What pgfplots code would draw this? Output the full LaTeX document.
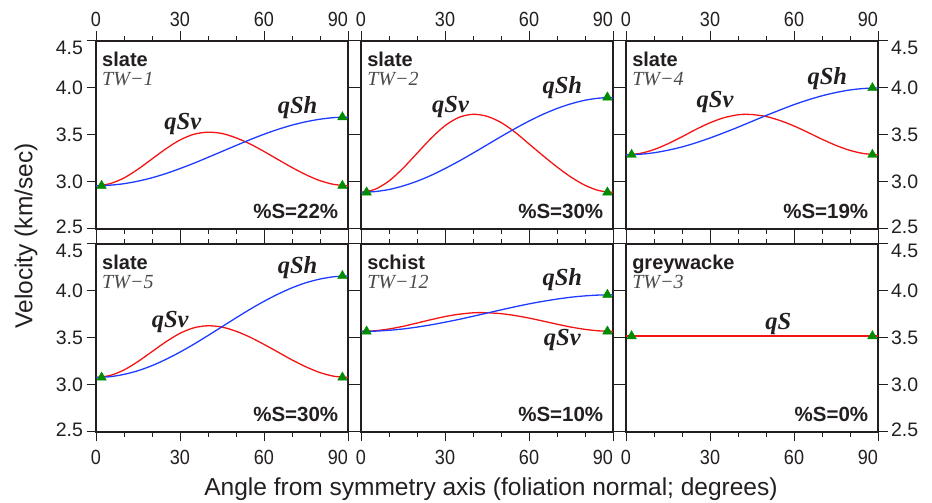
\documentclass[border=0pt]{standalone}
\usepackage{fontspec}
\setmainfont{Liberation Sans}
\newfontfamily\timesfont{Liberation Serif}
\newfontfamily\narrowsans[FakeStretch=0.88]{Liberation Sans}
\usepackage{pgfplots}
\pgfplotsset{compat=1.18}
\definecolor{txt}{HTML}{231F20}
\definecolor{twgray}{HTML}{4A4A4A}
\definecolor{cred}{HTML}{F41414}
\definecolor{cblue}{HTML}{1E3CFF}
\definecolor{cgreen}{HTML}{008C00}
\pgfplotsset{
  panel/.style={
    width=252pt, height=188pt, scale only axis, anchor=south west,
    xmin=0, xmax=90, ymin=2.5, ymax=4.5,
    xtick={0,30,60,90}, minor xtick={10,20,40,50,70,80},
    xticklabels={0,30,60,\makebox[0pt][r]{90}},
    ytick={2.5,3.0,3.5,4.0,4.5},
    yticklabels={\raisebox{2pt}[\height][\depth]{2.5},3.0,3.5,4.0,\raisebox{-6.5pt}[\height][\depth]{4.5}},
    tick align=outside, tick pos=both,
    major tick length=9.5pt, minor tick length=5pt,
    axis line style={line width=1.5pt, color=txt},
    tick style={line width=1pt, color=txt},
    yticklabel style={font=\fontsize{19.5}{20}\selectfont, color=txt},
    xticklabel style={font=\fontsize{20.5}{21}\selectfont\narrowsans, color=txt},
    clip=false,
  },
  toprow/.style={xticklabel pos=upper, xticklabel style={yshift=1pt}},
  botrow/.style={xticklabel pos=lower, xticklabel style={yshift=-5pt}},
  sv/.style={cred, line width=1.3pt, smooth},
  sh/.style={cblue, line width=1.3pt, smooth},
  tri/.style={only marks, mark=triangle*, mark size=5.5pt, mark options={fill=cgreen, draw=cgreen}},
}
\newcommand{\rock}[2]{%
  \node[anchor=base west, font=\fontsize{20}{20}\selectfont\bfseries, color=txt, inner sep=0pt] at (rel axis cs:0.024,0.862) {#1};
  \node[anchor=base west, font=\fontsize{20}{20}\selectfont\timesfont\itshape, color=twgray, inner sep=0pt] at (rel axis cs:0.024,0.761) {#2};}
\newcommand{\pct}[1]{%
  \node[anchor=base east, font=\fontsize{20.5}{20}\selectfont\bfseries, color=txt, inner sep=0pt] at (rel axis cs:0.962,0.058) {\%S=#1\%};}
\newcommand{\lab}[3]{%
  \node[font=\fontsize{24.5}{25}\selectfont\timesfont\bfseries\itshape, color=txt, inner sep=0pt] at (axis cs:#1,#2) {#3};}
\begin{document}
\begin{tikzpicture}
\path[use as bounding box] (0pt,0pt) rectangle (932pt,503pt);
% ---------- TW-1
\begin{axis}[panel, toprow, at={(96pt,274pt)}, yticklabel pos=left]
\addplot[sv] coordinates {(0,2.960)(5,2.982)(10,3.043)(15,3.136)(20,3.245)(25,3.354)(30,3.447)(35,3.508)(40,3.530)(45,3.516)(50,3.470)(55,3.405)(60,3.325)(65,3.239)(70,3.154)(75,3.077)(80,3.014)(85,2.974)(90,2.960)};
\addplot[sh] coordinates {(0,2.960)(5,2.966)(10,2.982)(15,3.009)(20,3.045)(25,3.090)(30,3.143)(35,3.200)(40,3.262)(45,3.325)(50,3.388)(55,3.450)(60,3.508)(65,3.560)(70,3.605)(75,3.641)(80,3.668)(85,3.685)(90,3.690)};
\addplot[tri] coordinates {(2,2.960)(88,2.960)(88,3.690)};
\rock{slate}{TW−1}\pct{22}
\lab{31}{3.62}{qSv}\lab{72}{3.795}{qSh}
\end{axis}
% ---------- TW-2
\begin{axis}[panel, toprow, at={(361pt,274pt)}, yticklabels={}]
\addplot[sv] coordinates {(0,2.890)(5,2.922)(10,3.011)(15,3.146)(20,3.305)(25,3.464)(30,3.599)(35,3.688)(40,3.720)(45,3.699)(50,3.633)(55,3.530)(60,3.405)(65,3.280)(70,3.160)(75,3.052)(80,2.965)(85,2.908)(90,2.890)};
\addplot[sh] coordinates {(0,2.890)(5,2.898)(10,2.920)(15,2.958)(20,3.008)(25,3.070)(30,3.143)(35,3.222)(40,3.307)(45,3.395)(50,3.483)(55,3.568)(60,3.648)(65,3.720)(70,3.782)(75,3.832)(80,3.870)(85,3.892)(90,3.900)};
\addplot[tri] coordinates {(2,2.890)(88,2.890)(88,3.900)};
\rock{slate}{TW−2}\pct{30}
\lab{32}{3.80}{qSv}\lab{71.9}{4.00}{qSh}
\end{axis}
% ---------- TW-4
\begin{axis}[panel, toprow, at={(626pt,274pt)}, yticklabel pos=right]
\addplot[sv] coordinates {(0,3.290)(5,3.304)(10,3.345)(15,3.407)(20,3.481)(25,3.560)(30,3.630)(35,3.684)(40,3.715)(43,3.720)(45,3.718)(50,3.697)(55,3.654)(60,3.596)(65,3.527)(70,3.455)(75,3.389)(80,3.336)(85,3.302)(90,3.290)};
\addplot[sh] coordinates {(0,3.290)(5,3.295)(10,3.311)(15,3.338)(20,3.373)(25,3.417)(30,3.468)(35,3.524)(40,3.583)(45,3.645)(50,3.707)(55,3.766)(60,3.823)(65,3.873)(70,3.917)(75,3.952)(80,3.979)(85,3.995)(90,4.000)};
\addplot[tri] coordinates {(2,3.290)(88,3.290)(88,4.000)};
\rock{slate}{TW−4}\pct{19}
\lab{31.8}{3.855}{qSv}\lab{71.9}{4.10}{qSh}
\end{axis}
% ---------- TW-5
\begin{axis}[panel, botrow, at={(96pt,71pt)}, yticklabel pos=left]
\addplot[sv] coordinates {(0,3.080)(5,3.101)(10,3.160)(15,3.250)(20,3.355)(25,3.460)(30,3.550)(35,3.609)(40,3.630)(45,3.616)(50,3.572)(55,3.509)(60,3.432)(65,3.350)(70,3.267)(75,3.193)(80,3.132)(85,3.093)(90,3.080)};
\addplot[sh] coordinates {(0,3.080)(5,3.088)(10,3.113)(15,3.152)(20,3.206)(25,3.273)(30,3.350)(35,3.435)(40,3.526)(45,3.620)(50,3.714)(55,3.805)(60,3.890)(65,3.967)(70,4.034)(75,4.088)(80,4.127)(85,4.152)(90,4.160)};
\addplot[tri] coordinates {(2,3.080)(88,3.080)(88,4.160)};
\rock{slate}{TW−5}\pct{30}
\lab{26.5}{3.667}{qSv}\lab{72}{4.25}{qSh}
\end{axis}
% ---------- TW-12
\begin{axis}[panel, botrow, at={(361pt,71pt)}, yticklabels={}]
\addplot[sv] coordinates {(0,3.570)(5,3.577)(10,3.596)(15,3.624)(20,3.659)(25,3.695)(30,3.728)(35,3.753)(40,3.768)(43,3.770)(45,3.769)(50,3.759)(55,3.739)(60,3.712)(65,3.680)(70,3.647)(75,3.616)(80,3.592)(85,3.576)(90,3.570)};
\addplot[sh] coordinates {(0,3.570)(5,3.573)(10,3.582)(15,3.596)(20,3.616)(25,3.640)(30,3.668)(35,3.698)(40,3.731)(45,3.765)(50,3.799)(55,3.832)(60,3.863)(65,3.890)(70,3.914)(75,3.934)(80,3.948)(85,3.957)(90,3.960)};
\addplot[tri] coordinates {(2,3.570)(88,3.570)(88,3.960)};
\rock{schist}{TW−12}\pct{10}
\lab{71.9}{4.116}{qSh}\lab{71.9}{3.474}{qSv}
\end{axis}
% ---------- TW-3
\begin{axis}[panel, botrow, at={(626pt,71pt)}, yticklabel pos=right]
\addplot[cred, line width=1.3pt] coordinates {(0,3.52)(90,3.52)};
\addplot[tri] coordinates {(2,3.52)(88,3.52)};
\rock{greywacke}{TW−3}\pct{0}
\lab{54.4}{3.65}{qS}
\end{axis}
\node[rotate=90, font=\fontsize{24.5}{25}\selectfont, color=txt] at (26pt,267pt) {Velocity (km/sec)};
\node[anchor=base, font=\fontsize{24.5}{25}\selectfont, color=txt, inner sep=0pt] at (491pt,7pt) {Angle from symmetry axis (foliation normal; degrees)};
\end{tikzpicture}
\end{document}
